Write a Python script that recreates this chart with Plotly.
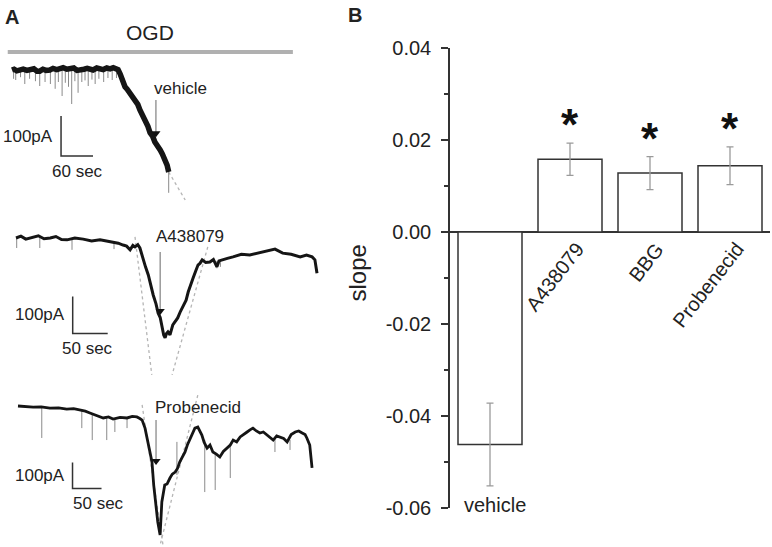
"""OGD whole-cell currents (A) and slope of the current per treatment (B)."""

import plotly.graph_objects as go

W, H = 772, 547
FONT = "Liberation Sans, Arial, sans-serif"
INK = "#222222"

# ---- panel B: slope of the OGD current ----
groups = ["vehicle", "A438079", "BBG", "Probenecid"]
slope_mean = [-0.0462, 0.0158, 0.0128, 0.0144]
slope_sem = [0.0090, 0.0035, 0.0036, 0.0041]
signif = ["", "*", "*", "*"]
y_ticks = [-0.06, -0.04, -0.02, 0.0, 0.02, 0.04]
y_ticktext = ["-0.06", "-0.04", "-0.02", "0.00", "0.02", "0.04"]
y_minor = [-0.05, -0.03, -0.01, 0.01, 0.03]

# ---- panel A: currents, t in s, I in pA relative to baseline ----
veh_t = [0, 4, 9, 15, 21, 28, 34, 41, 47, 52, 58, 64, 71, 77, 84, 90, 96, 103,
         109, 116, 122, 128, 135, 141, 146, 152, 159, 165, 171, 178, 184, 190,
         195, 199, 203, 206, 209, 212, 216, 221, 226, 231, 236, 240, 245, 250,
         255, 259, 264, 268, 273, 278, 282, 287, 291, 294]
veh_i = [0, 2, -2, -1, 2, -1, 0, 3, -3, -3, 2, -1, 0, 4, 1, 4, 6, 2, 3, 5, -1,
         -1, 2, 4, 3, 0, 5, 4, 1, 5, 3, 6, 2, 1, -10, -25, -33, -42, -48,
         -57, -66, -77, -86, -100, -112, -130, -141, -157, -166, -180, -188,
         -200, -210, -225, -238, -255]
veh_spike_t = [3, 7, 16, 24, 33, 44, 52, 62, 72, 81, 87, 94, 100, 106, 112,
               118, 124, 131, 137, 143, 150, 156, 163, 172, 180, 188, 196, 294]
veh_spike_hi = [0, 0, 0, 0, 0, 0, 0, 0, 0, 0, 0, 0, 0, 0, 0, 0, 0, 0, 0, 0, 0,
                0, 0, 0, 0, 0, 0, -250]
veh_spike_lo = [-22, -25, -18, -35, -22, -28, -40, -30, -35, -47, -30, -65,
                -32, -42, -85, -28, -57, -30, -26, -40, -24, -35, -22, -30,
                -20, -25, -20, -307]
veh_fit_t = [294, 325]
veh_fit_i = [-255, -325]

a43_t = [0, 7, 14, 24, 32, 40, 49, 57, 65, 73, 84, 96, 108, 120, 130, 139,
         146, 153, 158, 163, 167, 170, 174, 177, 181, 185, 189, 193, 196, 200,
         203, 206, 209, 211, 213, 215, 217, 220, 224, 227, 231, 235, 239, 243,
         246, 250, 253, 257, 260, 263, 266, 271, 277, 282, 287, 290, 294, 302,
         310, 322, 334, 346, 359, 370, 381, 393, 406, 415, 423, 427, 430]
a43_i = [0, 5, -3, 3, 6, -2, 0, 4, -4, -5, 0, -3, -8, -5, -9, -11, -14, -19,
         -22, -32, -20, -24, -18, -27, -54, -78, -100, -135, -154, -178, -203,
         -215, -243, -262, -270, -258, -254, -262, -235, -228, -216, -198,
         -181, -168, -146, -122, -108, -88, -73, -68, -59, -66, -65, -58, -78,
         -62, -59, -55, -51, -44, -46, -40, -35, -30, -41, -44, -51, -46, -51,
         -59, -95]
a43_spike_t = [1, 34, 80, 140, 287, 292]
a43_spike_hi = [0, 2, -5, -10, -62, -60]
a43_spike_lo = [-27, -27, -32, -30, -82, -78]
a43_fit1_t = [170, 194]
a43_fit1_i = [3, -370]
a43_fit2_t = [274, 223]
a43_fit2_i = [-24, -370]

prb_t = [0, 12, 26, 40, 55, 70, 84, 96, 107, 116, 124, 135, 147, 156, 164, 176,
         188, 197, 205, 210, 214, 219, 224, 231, 234, 238, 241, 245, 248, 253,
         257, 262, 266, 271, 275, 279, 283, 288, 292, 297, 301, 305, 310, 313,
         317, 321, 326, 331, 336, 342, 348, 354, 360, 366, 371, 377, 383, 389,
         395, 400, 405, 411, 417, 423, 429, 434, 440, 446, 452, 458, 464, 471,
         478, 484, 490, 495, 498, 503, 507]
prb_i = [0, -2, -4, -3, -8, -7, -12, -10, -15, -20, -27, -35, -46, -42, -50,
         -44, -46, -40, -42, -48, -54, -85, -138, -215, -304, -392, -446, -496,
         -369, -304, -300, -277, -262, -254, -240, -215, -200, -177, -150,
         -123, -100, -85, -81, -95, -112, -140, -162, -150, -177, -185, -196,
         -175, -162, -150, -131, -138, -119, -108, -100, -92, -85, -96, -104,
         -100, -112, -120, -131, -115, -119, -125, -138, -110, -100, -96, -104,
         -110, -123, -150, -238]
prb_spike_t = [41, 110, 128, 153, 167, 188, 274, 322, 340, 366, 443, 469]
prb_spike_hi = [-5, -15, -27, -46, -50, -46, -138, -130, -180, -150, -125, -130]
prb_spike_lo = [-123, -85, -131, -131, -100, -85, -265, -331, -323, -277, -177, -169]
prb_fit1_t = [214, 250]
prb_fit1_i = [4, -535]
prb_fit2_t = [310, 245]
prb_fit2_i = [42, -535]

# OGD application bar (drawn on the vehicle trace's time base)
ogd_t = [-8, 527]
ogd_i = [45, 45]

# arrows: time, shaft top, tip (pA)
veh_arrow = (270, -75, -158)
a43_arrow = (206, -38, -197)
prb_arrow = (238, -54, -212)

# scale bars: corner time, corner current, seconds, pA
veh_scale = (92, -215, 60, 100)
a43_scale = (81, -258, 50, 100)
prb_scale = (94, -317, 50, 100)


def spikes(ts, his, los):
    xs, ys = [], []
    for t, hi, lo in zip(ts, his, los):
        xs += [t, t, None]
        ys += [hi, lo, None]
    return xs, ys


fig = go.Figure()

# bars
x_pos = list(range(len(groups)))
fig.add_trace(go.Bar(
    x=x_pos, y=slope_mean, width=0.8,
    marker=dict(color="white", line=dict(color="#333333", width=1.5)),
    error_y=dict(type="data", array=slope_sem, color="#9a9a9a",
                 thickness=1.3, width=3.5),
    showlegend=False,
))

annotations = []
for k, (m, s, mark) in enumerate(zip(slope_mean, slope_sem, signif)):
    if mark:
        annotations.append(dict(x=k, y=m + s, xref="x", yref="y", text=f"<b>{mark}</b>",
                                xanchor="center", yanchor="bottom", yshift=-8,
                                showarrow=False, font=dict(size=44, color="#111111")))

# traces of panel A, one axis pair each
panels = [
    dict(n=2, t=veh_t, i=veh_i, width=5.5,
         spk=spikes(veh_spike_t, veh_spike_hi, veh_spike_lo),
         fits=[(veh_fit_t, veh_fit_i)], arrow=veh_arrow, scale=veh_scale,
         label="vehicle", label_pos=(317, -45), sec_shift=0,
         origin=(12, 70), px=(0.533, 0.4), rows=(0, 210)),
    dict(n=3, t=a43_t, i=a43_i, width=3,
         spk=spikes(a43_spike_t, a43_spike_hi, a43_spike_lo),
         fits=[(a43_fit1_t, a43_fit1_i), (a43_fit2_t, a43_fit2_i)],
         arrow=a43_arrow, scale=a43_scale,
         label="A438079", label_pos=(248, 4), sec_shift=-3,
         origin=(16, 238), px=(0.7, 0.37), rows=(210, 385)),
    dict(n=4, t=prb_t, i=prb_i, width=2.8,
         spk=spikes(prb_spike_t, prb_spike_hi, prb_spike_lo),
         fits=[(prb_fit1_t, prb_fit1_i), (prb_fit2_t, prb_fit2_i)],
         arrow=prb_arrow, scale=prb_scale,
         label="Probenecid", label_pos=(311, -6), sec_shift=11,
         origin=(18, 406), px=(0.58, 0.26), rows=(385, 547)),
]

for p in panels:
    xa, ya = f"x{p['n']}", f"y{p['n']}"
    for ft, fi in p["fits"]:
        fig.add_trace(go.Scatter(x=ft, y=fi, xaxis=xa, yaxis=ya, mode="lines",
                                 line=dict(color="#b5b5b5", width=1.3, dash="dot"),
                                 showlegend=False, hoverinfo="skip"))
    fig.add_trace(go.Scatter(x=p["spk"][0], y=p["spk"][1], xaxis=xa, yaxis=ya,
                             mode="lines", line=dict(color="#8a8a8a", width=1),
                             showlegend=False, hoverinfo="skip"))
    fig.add_trace(go.Scatter(x=p["t"], y=p["i"], xaxis=xa, yaxis=ya, mode="lines",
                             line=dict(color="#151515", width=p["width"]),
                             showlegend=False))
    at, a_top, a_tip = p["arrow"]
    fig.add_trace(go.Scatter(x=[at, at], y=[a_top, a_tip], xaxis=xa, yaxis=ya,
                             mode="lines", line=dict(color="#9a9a9a", width=1.5),
                             showlegend=False, hoverinfo="skip"))
    fig.add_trace(go.Scatter(x=[at], y=[a_tip], xaxis=xa, yaxis=ya, mode="markers",
                             marker=dict(symbol="triangle-down", size=8, color="#111111"),
                             showlegend=False, hoverinfo="skip"))
    st, si, sec, pa = p["scale"]
    fig.add_trace(go.Scatter(x=[st, st, st + sec], y=[si + pa, si, si],
                             xaxis=xa, yaxis=ya, mode="lines",
                             line=dict(color="#333333", width=1.5),
                             showlegend=False, hoverinfo="skip"))
    annotations.append(dict(x=st, y=si + pa / 2, xref=xa, yref=ya, text=f"{pa}pA",
                            xanchor="right", yanchor="middle", xshift=-6,
                            showarrow=False, font=dict(size=17)))
    annotations.append(dict(x=st + sec / 2, y=si, xref=xa, yref=ya, text=f"{sec} sec",
                            xanchor="center", yanchor="top", yshift=-4,
                            xshift=p["sec_shift"], showarrow=False, font=dict(size=17)))
    annotations.append(dict(x=p["label_pos"][0], y=p["label_pos"][1], xref=xa, yref=ya,
                            text=p["label"], xanchor="center", yanchor="middle",
                            showarrow=False, font=dict(size=17)))

# OGD bar
fig.add_trace(go.Scatter(x=ogd_t, y=ogd_i, xaxis="x2", yaxis="y2", mode="lines",
                         line=dict(color="#b0b0b0", width=4),
                         showlegend=False, hoverinfo="skip"))
annotations.append(dict(x=sum(ogd_t) / 2, y=ogd_i[0], xref="x2", yref="y2",
                        text="OGD", xanchor="center", yanchor="bottom", yshift=6,
                        showarrow=False, font=dict(size=21)))

# panel B labels
annotations.append(dict(x=0, y=y_ticks[0], xref="x", yref="y", text=groups[0],
                        xanchor="center", yanchor="middle", xshift=5, yshift=3,
                        showarrow=False, font=dict(size=20)))
for k in range(1, len(groups)):
    annotations.append(dict(x=k + 0.26, y=0, xref="x", yref="y", text=groups[k],
                            textangle=-52, xanchor="right", yanchor="top",
                            yshift=-4, showarrow=False, font=dict(size=20)))
annotations.append(dict(x=357 / W, y=0.5, xref="paper", yref="paper", text="slope",
                        textangle=-90, showarrow=False, font=dict(size=24)))
annotations.append(dict(x=3 / W, y=1 - 4 / H, xref="paper", yref="paper", text="<b>A</b>",
                        xanchor="left", yanchor="top", showarrow=False, font=dict(size=20)))
annotations.append(dict(x=346 / W, y=1 - 2 / H, xref="paper", yref="paper", text="<b>B</b>",
                        xanchor="left", yanchor="top", showarrow=False, font=dict(size=20)))

layout_axes = {}
for p in panels:
    (x0, y0), (sx, sy), (top, bot) = p["origin"], p["px"], p["rows"]
    layout_axes[f"xaxis{p['n']}"] = dict(domain=[0, 330 / W], range=[(0 - x0) / sx, (330 - x0) / sx],
                                         visible=False, anchor=f"y{p['n']}")
    layout_axes[f"yaxis{p['n']}"] = dict(domain=[1 - bot / H, 1 - top / H],
                                         range=[(y0 - bot) / sy, (y0 - top) / sy],
                                         visible=False, anchor=f"x{p['n']}")

fig.update_layout(
    template="none",
    width=W, height=H,
    margin=dict(l=0, r=0, t=0, b=0, autoexpand=False),
    paper_bgcolor="white", plot_bgcolor="white",
    font=dict(family=FONT, color=INK),
    xaxis=dict(domain=[450 / W, 770 / W], range=[-0.5, 3.5], visible=False),
    yaxis=dict(domain=[1 - 508 / H, 1 - 48 / H], range=[y_ticks[0], y_ticks[-1]],
               automargin=False,
               tickvals=y_ticks, ticktext=y_ticktext, ticks="outside", ticklen=7,
               tickwidth=1.5, tickcolor="#333333", showline=True, linecolor="#333333",
               linewidth=1.5, showgrid=False, zeroline=True, zerolinecolor="#333333",
               zerolinewidth=1.5, tickfont=dict(size=20), ticklabelstandoff=6,
               minor=dict(tickvals=y_minor, ticks="outside", ticklen=4,
                          tickcolor="#333333", tickwidth=1.5, showgrid=False)),
    annotations=annotations,
    **layout_axes,
)

# the page body has a default 8px margin; drop it so the figure sits at the origin
fig.write_html("out.html", config={"displayModeBar": False},
               post_script="document.body.style.margin = '0';")
